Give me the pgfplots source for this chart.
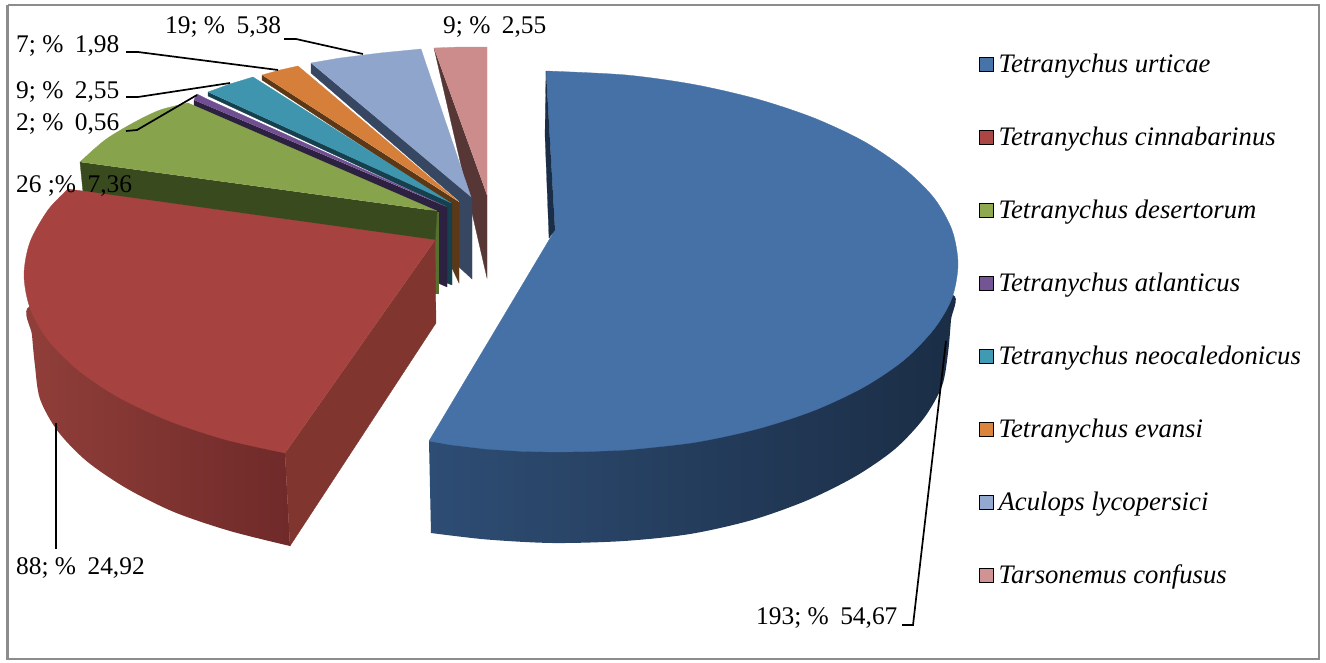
\documentclass[border=0pt]{standalone}
\usepackage{pgfplots}
\pgfplotsset{compat=1.18}
\usepackage{fontspec}
\setmainfont{Liberation Serif}
\definecolor{cB}{HTML}{4571A6}\definecolor{cBs}{HTML}{1A2E48}
\definecolor{cR}{HTML}{A64340}\definecolor{cRs}{HTML}{81352F}
\definecolor{cG}{HTML}{87A34B}\definecolor{cGs}{HTML}{384A1E}\definecolor{cGl}{HTML}{55702F}
\definecolor{cP}{HTML}{6F4E92}\definecolor{cPs}{HTML}{2C2140}
\definecolor{cT}{HTML}{3F95AE}\definecolor{cTs}{HTML}{17404E}
\definecolor{cO}{HTML}{D67F3A}\definecolor{cOs}{HTML}{5C3816}
\definecolor{cS}{HTML}{8FA5CC}\definecolor{cSs}{HTML}{374661}
\definecolor{cK}{HTML}{CC8C8C}\definecolor{cKs}{HTML}{563736}
\definecolor{lB}{HTML}{4673A8}\definecolor{lR}{HTML}{AA4643}\definecolor{lG}{HTML}{8FA94F}
\definecolor{lP}{HTML}{745495}\definecolor{lT}{HTML}{419AB3}\definecolor{lO}{HTML}{DB843D}
\definecolor{lS}{HTML}{94A9D0}\definecolor{lK}{HTML}{D09292}
\definecolor{frameC}{HTML}{8C8C8C}
\newcommand{\lab}[3]{\node[anchor=base west,inner sep=0pt,font=\fontsize{25.4}{28}\selectfont] at (axis cs:#1,#2) {#3};}
\begin{document}
\begin{tikzpicture}
\path[use as bounding box] (0,0) rectangle (1326pt,662pt);
\begin{axis}[
  at={(0,0)},anchor=south west,
  width=1326pt,height=662pt,scale only axis,
  xmin=0,xmax=1326,ymin=0,ymax=662,y dir=reverse,
  hide axis,clip=false,
  legend cell align=left,
  legend image code/.code={\path[#1] (0pt,-5pt) rectangle (14pt,9pt);\path (17pt,0pt);},
  legend style={draw=none,fill=none,font=\itshape\fontsize{26.7}{30}\selectfont,
    at={(axis cs:979,53)},anchor=north west,row sep=47pt,inner sep=0pt,
    nodes={inner sep=2pt,text height=17pt,text depth=5pt}},
  every axis plot/.append style={forget plot,mark=none},
]
% frame
\addplot[draw=frameC,line width=2.2pt] coordinates {(7.5,5)(1319,5)(1319,659)(7.5,659)(7.5,5)};
% Tarsonemus confusus
\addplot[fill=cKs,draw=cKs,line width=.3pt] coordinates {(434,48)(487,278)(487,195)};
\addplot[fill=cK,draw=cK,line width=.3pt] coordinates {(434,48)(460,47)(487,47)(487,195)};
% Aculops lycopersici
\addplot[fill=cSs,draw=cSs,line width=.3pt] coordinates {(311,63)(311,73)(459,201)(459,267)(472,279)(472,197)};
\addplot[fill=cS,draw=cS,line width=.3pt] coordinates {(311,63)(340,58)(380,53)(421,49)(471,197)};
% Tetranychus evansi
\addplot[fill=cOs,draw=cOs,line width=.3pt] coordinates {(262,75)(262,80)(452,205)(452,268)(459,283)(459,202)};
\addplot[fill=cO,draw=cO,line width=.3pt] coordinates {(262,75)(280,70)(298,66)(458,201)};
% Tetranychus neocaledonicus
\addplot[fill=cTs,draw=cTs,line width=.3pt] coordinates {(208,92)(208,96)(447,207)(447,283)(452,285)(452,203)};
\addplot[fill=cT,draw=cT,line width=.3pt] coordinates {(208,92)(230,84)(253,77)(451,203)};
% Tetranychus atlanticus
\addplot[fill=cPs,draw=cPs,line width=.3pt] coordinates {(194,100)(194,106)(438,214)(438,283)(447,287)(447,207)};
\addplot[fill=cP,draw=cP,line width=.3pt] coordinates {(194,100)(197,94)(207,99)(445,206)};
% Tetranychus desertorum
\addplot[fill=cGl,draw=cGl,line width=.3pt] coordinates {(435,212)(435,293)(438,293)(438,212)};
\addplot[fill=cGs,draw=cGs,line width=.3pt] coordinates {(80,162)(83,192)(435,241)(437,211)};
\addplot[fill=cG,draw=cG,line width=.3pt,smooth] coordinates {(80,162)(105,140)(133,123)(160,110)(188,103)};
\addplot[fill=cG,draw=cG,line width=.3pt] coordinates {(80,162)(130,130)(188,103)(437,211)};
% Tetranychus cinnabarinus
\addplot[draw=none,left color={rgb,255:red,145;green,63;blue,58},middle color={rgb,255:red,132;green,53;blue,51},right color={rgb,255:red,111;green,42;blue,41},smooth] coordinates {(290,546)(230,531)(174,512)(126,488)(86.5,461)(57.6,431)(40,399)(35,366)(32,335)(30,306)(100,300)(285,453)};
\addplot[fill=cRs,draw=cRs,line width=.3pt] coordinates {(285,453)(290,546)(436,323)(435,240)};
\addplot[fill=cR,draw=cR,line width=.3pt,smooth] coordinates {(68,189)(48,210)(30,242)(24,275)(30,308)(48,340)(78,370)(118,397)(168,420.5)(225,439.5)(285,453)};
\addplot[fill=cR,draw=cR,line width=.3pt] coordinates {(68,189)(435,240)(285,453)(150,350)};
% Tetranychus urticae
\addplot[draw=none,left color={rgb,255:red,46;green,77;blue,116},middle color={rgb,255:red,31;green,50;blue,76},right color={rgb,255:red,26;green,44;blue,68},smooth] coordinates {(431,533)(487,539.5)(553,543)(624,541)(690,534)(752,520)(808,500)(856,476)(895,449)(924,418)(942,386)(948,353)(951,320)(953,295)(900,300)(429,441)};
\addplot[fill=cB,draw=cB,line width=.3pt,smooth] coordinates {(546,71)(626,75)(694,84.5)(757,99)(814,118)(864,141.5)(904,168.5)(934,198)(952,230)(958,264)(952,298)(934,329)(904,360)(864,387)(814,410.5)(757,429)(694,442.5)(626,450)};
\addplot[fill=cB,draw=cB,line width=.3pt] coordinates {(546,71)(555,230)(429,441)(452,445)(486,449)(521,451.3)(556,452)(590,451.5)(626,450)(650,300)};
\addplot[fill=cBs,draw=cBs,line width=.2pt] coordinates {(546,71)(545,135)(549,238)(555,230)};
% leader lines
\addplot[black,line width=1.7pt] coordinates {(56,423)(56,549)};
\addplot[black,line width=1.7pt] coordinates {(946,341)(913,625)(902,625)};
\addplot[black,line width=1.7pt] coordinates {(284,39)(296,39)(363,54)};
\addplot[black,line width=1.7pt] coordinates {(126,52)(138,52)(278,70)};
\addplot[black,line width=1.7pt] coordinates {(126,97)(138,97)(230,83)};
\addplot[black,line width=1.7pt] coordinates {(126,131)(137,130)(197,95)};
% legend
\addlegendimage{fill=lB}\addlegendentry{Tetranychus urticae}
\addlegendimage{fill=lR}\addlegendentry{Tetranychus cinnabarinus}
\addlegendimage{fill=lG}\addlegendentry{Tetranychus desertorum}
\addlegendimage{fill=lP}\addlegendentry{Tetranychus atlanticus}
\addlegendimage{fill=lT}\addlegendentry{Tetranychus neocaledonicus}
\addlegendimage{fill=lO}\addlegendentry{Tetranychus evansi}
\addlegendimage{fill=lS}\addlegendentry{Aculops lycopersici}
\addlegendimage{fill=lK}\addlegendentry{Tarsonemus confusus}
% labels
\lab{165}{33}{19; \%\hspace{.2em} 5,38}
\lab{443}{33}{9; \%\hspace{.2em} 2,55}
\lab{16}{52}{7; \%\hspace{.2em} 1,98}
\lab{16}{98}{9; \%\hspace{.2em} 2,55}
\lab{16}{130}{2; \%\hspace{.2em} 0,56}
\lab{16}{192}{26 ;\%\hspace{.2em} 7,36}
\lab{16}{574}{88; \%\hspace{.2em} 24,92}
\lab{756}{624}{193; \%\hspace{.2em} 54,67}
\end{axis}
\end{tikzpicture}
\end{document}
